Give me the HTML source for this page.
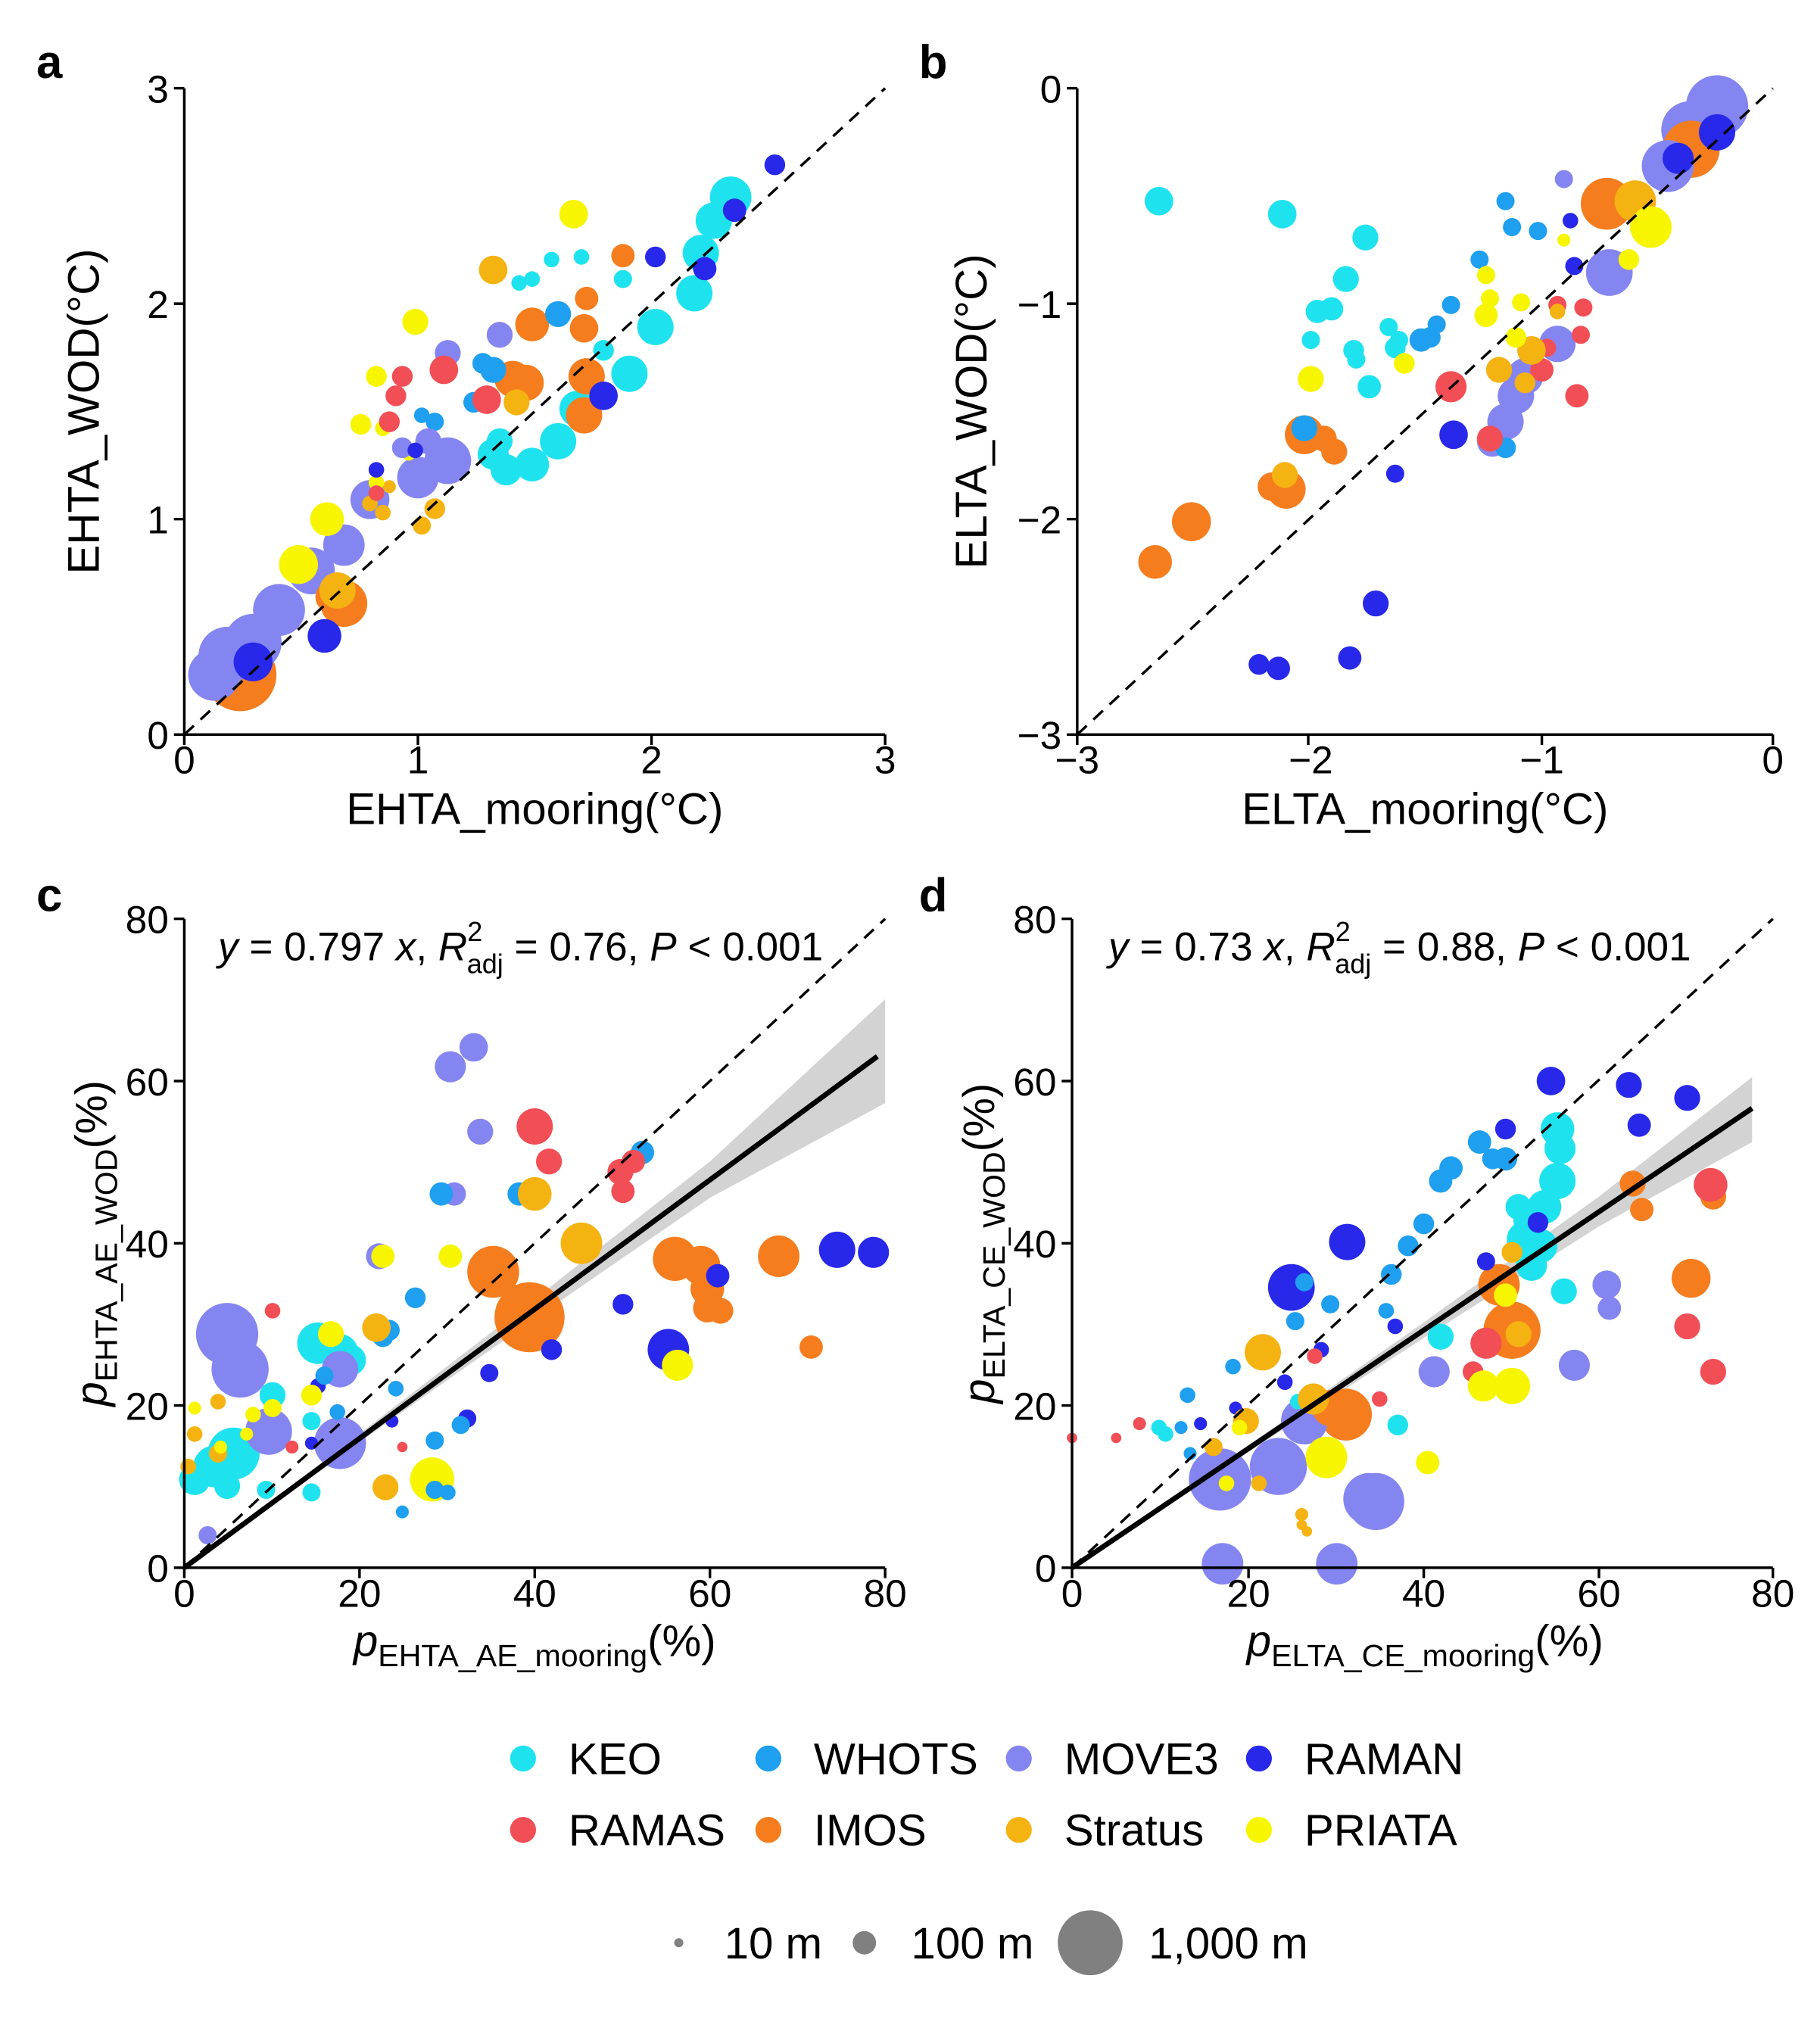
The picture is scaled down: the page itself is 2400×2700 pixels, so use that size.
<!DOCTYPE html>
<html><head><meta charset="utf-8"><style>
html,body{margin:0;padding:0;background:#fff}
svg{display:block}
text{font-family:"Liberation Sans",Arial,sans-serif;fill:#000}
.k{fill:#1ee3ef}.w{fill:#1e9ff0}.m{fill:#8585f2}.r{fill:#2828ea}.s{fill:#f24e55}.i{fill:#f57d1e}.t{fill:#f5b311}.p{fill:#f8f500}
</style></head><body>
<svg width="2400" height="2700" viewBox="0 0 1400 1575" xmlns="http://www.w3.org/2000/svg">
<rect width="1400" height="1575" fill="#fff"/>
<polygon points="142,1208 300,1087 412,1001 547,895 682,770 682,850 547,923 412,1016 300,1095" fill="#d3d3d3"/>
<polygon points="826,1208 1000,1087 1097,1019 1232,922 1350,830 1350,880 1232,945 1097,1031 1000,1094" fill="#d3d3d3"/>
<g>
<!-- big first -->
<circle class="i" cx="185" cy="520" r="28"/><circle class="m" cx="175" cy="505" r="22"/><circle class="m" cx="195" cy="495" r="22"/><circle class="m" cx="165" cy="520" r="20"/><circle class="m" cx="215" cy="470" r="20"/><circle class="m" cx="240" cy="440" r="18"/><circle class="m" cx="345" cy="355" r="18"/><circle class="i" cx="265" cy="465" r="18"/><circle class="m" cx="322" cy="368" r="16"/><circle class="m" cx="265" cy="420" r="16"/><circle class="k" cx="563" cy="152" r="16"/><circle class="m" cx="285" cy="385" r="15"/><circle class="r" cx="195" cy="510" r="15"/><circle class="p" cx="230" cy="435" r="15"/>
<circle class="k" cx="550" cy="170" r="14"/><circle class="k" cx="540" cy="195" r="14"/><circle class="k" cx="535" cy="226" r="14"/><circle class="k" cx="505" cy="252" r="14"/><circle class="k" cx="485" cy="288" r="14"/><circle class="k" cx="445" cy="315" r="14"/><circle class="k" cx="430" cy="340" r="14"/><circle class="k" cx="410" cy="358" r="13"/><circle class="k" cx="390" cy="362" r="12"/><circle class="k" cx="380" cy="350" r="12"/><circle class="k" cx="385" cy="340" r="10"/><circle class="k" cx="465" cy="270" r="8"/><circle class="k" cx="480" cy="215" r="7"/><circle class="k" cx="425" cy="200" r="6"/><circle class="k" cx="410" cy="215" r="6"/><circle class="k" cx="400" cy="218" r="6"/><circle class="k" cx="448" cy="198" r="6"/>
<circle class="i" cx="450" cy="320" r="14"/><circle class="i" cx="405" cy="295" r="14"/><circle class="i" cx="395" cy="292" r="14"/><circle class="i" cx="452" cy="290" r="14"/><circle class="i" cx="410" cy="250" r="13"/><circle class="i" cx="255" cy="460" r="12"/><circle class="i" cx="450" cy="253" r="11"/><circle class="i" cx="452" cy="230" r="9"/><circle class="i" cx="480" cy="197" r="9"/>
<circle class="t" cx="260" cy="455" r="14"/><circle class="t" cx="380" cy="208" r="11"/><circle class="t" cx="398" cy="310" r="10"/><circle class="t" cx="335" cy="392" r="8"/><circle class="t" cx="325" cy="405" r="7"/><circle class="t" cx="295" cy="395" r="6"/><circle class="t" cx="285" cy="388" r="6"/><circle class="t" cx="300" cy="375" r="5"/>
<circle class="p" cx="252" cy="400" r="13"/><circle class="p" cx="442" cy="165" r="11"/><circle class="p" cx="320" cy="248" r="10"/><circle class="p" cx="290" cy="290" r="8"/><circle class="p" cx="278" cy="327" r="8"/><circle class="p" cx="295" cy="330" r="6"/><circle class="p" cx="315" cy="350" r="5"/><circle class="p" cx="330" cy="345" r="4"/><circle class="p" cx="290" cy="372" r="6"/>
<circle class="w" cx="430" cy="242" r="10"/><circle class="w" cx="380" cy="285" r="10"/><circle class="w" cx="372" cy="280" r="8"/><circle class="w" cx="365" cy="310" r="8"/><circle class="w" cx="335" cy="325" r="7"/><circle class="w" cx="325" cy="320" r="6"/>
<circle class="m" cx="346" cy="350" r="10"/><circle class="m" cx="385" cy="258" r="10"/><circle class="m" cx="345" cy="272" r="10"/><circle class="m" cx="330" cy="340" r="10"/><circle class="m" cx="310" cy="345" r="8"/>
<circle class="r" cx="250" cy="490" r="13"/><circle class="r" cx="465" cy="305" r="11"/><circle class="r" cx="597" cy="127" r="8"/><circle class="r" cx="566" cy="162" r="9"/><circle class="r" cx="543" cy="207" r="9"/><circle class="r" cx="505" cy="198" r="8"/><circle class="r" cx="290" cy="362" r="6"/><circle class="r" cx="320" cy="347" r="6"/>
<circle class="s" cx="342" cy="285" r="11"/><circle class="s" cx="375" cy="308" r="11"/><circle class="s" cx="310" cy="290" r="8"/><circle class="s" cx="305" cy="305" r="8"/><circle class="s" cx="300" cy="325" r="8"/><circle class="s" cx="290" cy="380" r="6"/>
<!-- panel b -->
<circle class="m" cx="1323" cy="82" r="24"/><circle class="m" cx="1302" cy="100" r="22"/><circle class="i" cx="1303" cy="115" r="22"/><circle class="m" cx="1285" cy="128" r="20"/><circle class="i" cx="1238" cy="157" r="20"/><circle class="m" cx="1240" cy="210" r="18"/><circle class="t" cx="1260" cy="155" r="16"/><circle class="p" cx="1272" cy="175" r="16"/>
<circle class="m" cx="1200" cy="265" r="14"/><circle class="m" cx="1175" cy="290" r="14"/><circle class="m" cx="1168" cy="305" r="14"/><circle class="m" cx="1160" cy="325" r="14"/><circle class="m" cx="1150" cy="340" r="12"/><circle class="m" cx="1205" cy="138" r="7"/>
<circle class="r" cx="1323" cy="102" r="14"/><circle class="r" cx="1293" cy="122" r="12"/><circle class="r" cx="1120" cy="335" r="11"/><circle class="r" cx="1060" cy="465" r="10"/><circle class="r" cx="1040" cy="507" r="9"/><circle class="r" cx="970" cy="512" r="8"/><circle class="r" cx="985" cy="515" r="9"/><circle class="r" cx="1075" cy="365" r="7"/><circle class="r" cx="1213" cy="205" r="7"/><circle class="r" cx="1210" cy="170" r="6"/>
<circle class="i" cx="991" cy="377" r="15"/><circle class="i" cx="1005" cy="335" r="15"/><circle class="i" cx="918" cy="402" r="15"/><circle class="i" cx="890" cy="433" r="13"/><circle class="i" cx="980" cy="375" r="11"/><circle class="i" cx="1028" cy="348" r="10"/><circle class="i" cx="1020" cy="338" r="10"/>
<circle class="k" cx="893" cy="155" r="11"/><circle class="k" cx="988" cy="165" r="11"/><circle class="k" cx="1052" cy="183" r="10"/><circle class="k" cx="1037" cy="215" r="10"/><circle class="k" cx="1015" cy="240" r="9"/><circle class="k" cx="1026" cy="238" r="9"/><circle class="k" cx="1010" cy="262" r="7"/><circle class="k" cx="1070" cy="252" r="7"/><circle class="k" cx="1078" cy="262" r="7"/><circle class="k" cx="1045" cy="277" r="7"/><circle class="k" cx="1055" cy="298" r="9"/><circle class="k" cx="1075" cy="268" r="8"/><circle class="k" cx="1043" cy="270" r="8"/>
<circle class="w" cx="1005" cy="330" r="10"/><circle class="w" cx="1160" cy="345" r="8"/><circle class="w" cx="1095" cy="262" r="9"/><circle class="w" cx="1102" cy="260" r="8"/><circle class="w" cx="1118" cy="235" r="7"/><circle class="w" cx="1140" cy="200" r="7"/><circle class="w" cx="1165" cy="175" r="7"/><circle class="w" cx="1160" cy="155" r="7"/><circle class="w" cx="1185" cy="178" r="7"/><circle class="w" cx="1107" cy="250" r="7"/>
<circle class="s" cx="1118" cy="298" r="12"/><circle class="s" cx="1148" cy="338" r="10"/><circle class="s" cx="1188" cy="285" r="9"/><circle class="s" cx="1215" cy="305" r="9"/><circle class="s" cx="1200" cy="235" r="7"/><circle class="s" cx="1220" cy="237" r="7"/><circle class="s" cx="1218" cy="258" r="7"/><circle class="s" cx="1192" cy="268" r="7"/>
<circle class="t" cx="1180" cy="270" r="11"/><circle class="t" cx="1155" cy="285" r="10"/><circle class="t" cx="990" cy="366" r="10"/><circle class="t" cx="1200" cy="240" r="6"/><circle class="t" cx="1175" cy="295" r="8"/>
<circle class="p" cx="1255" cy="200" r="8"/><circle class="p" cx="1010" cy="292" r="10"/><circle class="p" cx="1145" cy="212" r="7"/><circle class="p" cx="1145" cy="243" r="9"/><circle class="p" cx="1172" cy="233" r="7"/><circle class="p" cx="1082" cy="280" r="8"/><circle class="p" cx="1168" cy="260" r="8"/><circle class="p" cx="1148" cy="230" r="7"/><circle class="p" cx="1205" cy="185" r="5"/>
<!-- panel c -->
<circle class="i" cx="408" cy="1015" r="27"/><circle class="m" cx="175" cy="1028" r="24"/><circle class="m" cx="185" cy="1055" r="22"/><circle class="m" cx="262" cy="1112" r="20"/><circle class="k" cx="180" cy="1120" r="20"/><circle class="i" cx="380" cy="980" r="20"/><circle class="m" cx="207" cy="1103" r="18"/><circle class="i" cx="520" cy="970" r="17"/><circle class="p" cx="333" cy="1140" r="17"/>
<circle class="k" cx="245" cy="1035" r="16"/><circle class="k" cx="262" cy="1042" r="14"/><circle class="k" cx="270" cy="1048" r="12"/><circle class="k" cx="165" cy="1130" r="16"/><circle class="k" cx="150" cy="1140" r="12"/><circle class="k" cx="175" cy="1145" r="10"/><circle class="k" cx="210" cy="1075" r="10"/><circle class="k" cx="240" cy="1095" r="7"/><circle class="k" cx="240" cy="1150" r="7"/><circle class="k" cx="205" cy="1148" r="7"/>
<circle class="m" cx="262" cy="1055" r="14"/><circle class="m" cx="292" cy="968" r="10"/><circle class="m" cx="347" cy="822" r="12"/><circle class="m" cx="365" cy="807" r="11"/><circle class="m" cx="370" cy="872" r="10"/><circle class="m" cx="350" cy="920" r="9"/><circle class="m" cx="160" cy="1183" r="7"/>
<circle class="i" cx="540" cy="975" r="15"/><circle class="i" cx="545" cy="993" r="13"/><circle class="i" cx="600" cy="968" r="16"/><circle class="i" cx="625" cy="1038" r="9"/><circle class="i" cx="545" cy="1008" r="11"/><circle class="i" cx="555" cy="1010" r="10"/>
<circle class="r" cx="515" cy="1040" r="16"/><circle class="r" cx="645" cy="963" r="14"/><circle class="r" cx="673" cy="965" r="12"/><circle class="r" cx="553" cy="983" r="9"/><circle class="r" cx="480" cy="1005" r="8"/><circle class="r" cx="425" cy="1040" r="8"/><circle class="r" cx="377" cy="1058" r="7"/><circle class="r" cx="360" cy="1093" r="7"/><circle class="r" cx="302" cy="1095" r="5"/><circle class="r" cx="240" cy="1112" r="5"/><circle class="r" cx="245" cy="1068" r="6"/>
<circle class="w" cx="495" cy="888" r="9"/><circle class="w" cx="400" cy="920" r="9"/><circle class="w" cx="340" cy="920" r="9"/><circle class="w" cx="320" cy="1000" r="8"/><circle class="w" cx="300" cy="1025" r="8"/><circle class="w" cx="295" cy="1030" r="8"/><circle class="w" cx="355" cy="1098" r="7"/><circle class="w" cx="335" cy="1110" r="7"/><circle class="w" cx="335" cy="1148" r="7"/><circle class="w" cx="345" cy="1150" r="6"/><circle class="w" cx="310" cy="1165" r="5"/><circle class="w" cx="250" cy="1060" r="7"/><circle class="w" cx="260" cy="1088" r="6"/><circle class="w" cx="305" cy="1070" r="6"/>
<circle class="s" cx="412" cy="868" r="14"/><circle class="s" cx="423" cy="895" r="10"/><circle class="s" cx="478" cy="903" r="10"/><circle class="s" cx="488" cy="895" r="9"/><circle class="s" cx="480" cy="918" r="9"/><circle class="s" cx="210" cy="1010" r="6"/><circle class="s" cx="225" cy="1115" r="5"/><circle class="s" cx="310" cy="1115" r="4"/>
<circle class="t" cx="448" cy="958" r="16"/><circle class="t" cx="412" cy="920" r="13"/><circle class="t" cx="290" cy="1023" r="11"/><circle class="t" cx="297" cy="1146" r="10"/><circle class="t" cx="168" cy="1120" r="7"/><circle class="t" cx="168" cy="1080" r="6"/><circle class="t" cx="150" cy="1105" r="6"/><circle class="t" cx="145" cy="1130" r="6"/>
<circle class="p" cx="522" cy="1052" r="12"/><circle class="p" cx="255" cy="1028" r="10"/><circle class="p" cx="295" cy="968" r="9"/><circle class="p" cx="347" cy="968" r="9"/><circle class="p" cx="240" cy="1075" r="8"/><circle class="p" cx="210" cy="1085" r="7"/><circle class="p" cx="195" cy="1090" r="6"/><circle class="p" cx="190" cy="1105" r="5"/><circle class="p" cx="170" cy="1115" r="5"/><circle class="p" cx="150" cy="1085" r="5"/>
<!-- panel d -->
<circle class="m" cx="940" cy="1140" r="24"/><circle class="m" cx="985" cy="1130" r="22"/><circle class="m" cx="1060" cy="1157" r="22"/><circle class="m" cx="1055" cy="1155" r="20"/><circle class="i" cx="1165" cy="1025" r="22"/><circle class="i" cx="1037" cy="1090" r="20"/><circle class="m" cx="1005" cy="1095" r="18"/><circle class="r" cx="995" cy="992" r="18"/>
<circle class="m" cx="942" cy="1205" r="16"/><circle class="m" cx="1030" cy="1205" r="16"/><circle class="m" cx="1105" cy="1057" r="12"/><circle class="m" cx="1213" cy="1052" r="12"/><circle class="m" cx="1238" cy="990" r="11"/><circle class="m" cx="1240" cy="1008" r="9"/><circle class="m" cx="1013" cy="1078" r="8"/>
<circle class="i" cx="1155" cy="990" r="16"/><circle class="i" cx="1025" cy="1085" r="14"/><circle class="i" cx="1303" cy="985" r="15"/><circle class="i" cx="1258" cy="912" r="10"/><circle class="i" cx="1265" cy="932" r="9"/><circle class="i" cx="1320" cy="922" r="10"/>
<circle class="k" cx="1200" cy="870" r="13"/><circle class="k" cx="1202" cy="885" r="12"/><circle class="k" cx="1200" cy="910" r="14"/><circle class="k" cx="1190" cy="930" r="13"/><circle class="k" cx="1178" cy="940" r="12"/><circle class="k" cx="1175" cy="955" r="14"/><circle class="k" cx="1187" cy="960" r="13"/><circle class="k" cx="1180" cy="975" r="12"/><circle class="k" cx="1170" cy="930" r="10"/><circle class="k" cx="1205" cy="995" r="10"/><circle class="k" cx="1110" cy="1030" r="10"/><circle class="k" cx="1077" cy="1098" r="8"/><circle class="k" cx="893" cy="1100" r="6"/><circle class="k" cx="898" cy="1105" r="6"/><circle class="k" cx="1000" cy="1080" r="6"/>
<circle class="w" cx="1140" cy="880" r="9"/><circle class="w" cx="1118" cy="900" r="9"/><circle class="w" cx="1110" cy="910" r="9"/><circle class="w" cx="1097" cy="943" r="8"/><circle class="w" cx="1085" cy="960" r="8"/><circle class="w" cx="1072" cy="982" r="8"/><circle class="w" cx="1150" cy="893" r="8"/><circle class="w" cx="1160" cy="893" r="9"/><circle class="w" cx="1068" cy="1010" r="6"/><circle class="w" cx="1025" cy="1005" r="7"/><circle class="w" cx="1005" cy="988" r="7"/><circle class="w" cx="998" cy="1018" r="7"/><circle class="w" cx="950" cy="1053" r="6"/><circle class="w" cx="915" cy="1075" r="6"/><circle class="w" cx="910" cy="1100" r="5"/><circle class="w" cx="917" cy="1120" r="5"/>
<circle class="r" cx="1038" cy="957" r="14"/><circle class="r" cx="1195" cy="833" r="11"/><circle class="r" cx="1255" cy="836" r="10"/><circle class="r" cx="1300" cy="846" r="10"/><circle class="r" cx="1263" cy="867" r="9"/><circle class="r" cx="1185" cy="942" r="8"/><circle class="r" cx="1160" cy="870" r="8"/><circle class="r" cx="1145" cy="972" r="7"/><circle class="r" cx="1075" cy="1022" r="6"/><circle class="r" cx="1018" cy="1040" r="6"/><circle class="r" cx="990" cy="1065" r="6"/><circle class="r" cx="952" cy="1085" r="5"/><circle class="r" cx="925" cy="1097" r="5"/>
<circle class="s" cx="1318" cy="913" r="13"/><circle class="s" cx="1300" cy="1022" r="10"/><circle class="s" cx="1320" cy="1057" r="10"/><circle class="s" cx="1145" cy="1035" r="12"/><circle class="s" cx="1135" cy="1057" r="8"/><circle class="s" cx="1063" cy="1078" r="6"/><circle class="s" cx="1013" cy="1045" r="6"/><circle class="s" cx="878" cy="1097" r="5"/><circle class="s" cx="860" cy="1108" r="4"/><circle class="s" cx="826" cy="1108" r="4"/>
<circle class="t" cx="973" cy="1042" r="14"/><circle class="t" cx="1012" cy="1078" r="12"/><circle class="t" cx="1170" cy="1028" r="10"/><circle class="t" cx="1165" cy="965" r="8"/><circle class="t" cx="960" cy="1095" r="10"/><circle class="t" cx="935" cy="1115" r="7"/><circle class="t" cx="1003" cy="1167" r="5"/><circle class="t" cx="1007" cy="1180" r="4"/><circle class="t" cx="1003" cy="1175" r="4"/><circle class="t" cx="970" cy="1143" r="6"/>
<circle class="p" cx="1022" cy="1123" r="16"/><circle class="p" cx="1165" cy="1068" r="14"/><circle class="p" cx="1143" cy="1068" r="12"/><circle class="p" cx="1100" cy="1127" r="9"/><circle class="p" cx="1160" cy="998" r="9"/><circle class="p" cx="945" cy="1143" r="6"/><circle class="p" cx="955" cy="1100" r="6"/>
</g>
<g stroke="#000" stroke-width="2" stroke-dasharray="10,7" fill="none">
<line x1="142" y1="566" x2="682" y2="68"/>
<line x1="830" y1="566" x2="1366" y2="68"/>
<line x1="142" y1="1208" x2="682" y2="708"/>
<line x1="826" y1="1208" x2="1366" y2="708"/>
</g>
<line x1="142" y1="1208" x2="676" y2="814" stroke="#000" stroke-width="4"/>
<line x1="826" y1="1208" x2="1350" y2="854" stroke="#000" stroke-width="4"/>
<g stroke="#000" stroke-width="2" fill="none">
<path d="M142,68V566H682"/>
<path d="M134,68H142M134,234H142M134,400H142M134,566H142M142,566V574M322,566V574M502,566V574M682,566V574"/>
<path d="M830,68V566H1366"/>
<path d="M822,68H830M822,234H830M822,400H830M822,566H830M830,566V574M1008,566V574M1188,566V574M1366,566V574"/>
<path d="M142,708V1208H682"/>
<path d="M134,708H142M134,833H142M134,958H142M134,1083H142M134,1208H142M142,1208V1216M277,1208V1216M412,1208V1216M547,1208V1216M682,1208V1216"/>
<path d="M826,708V1208H1366"/>
<path d="M818,708H826M818,833H826M818,958H826M818,1083H826M818,1208H826M826,1208V1216M962,1208V1216M1097,1208V1216M1232,1208V1216M1366,1208V1216"/>
</g>
<g font-size="30">
<g text-anchor="end"><text x="130" y="79">3</text><text x="130" y="245">2</text><text x="130" y="411">1</text><text x="130" y="577">0</text>
<text x="818" y="79">0</text><text x="818" y="245">−1</text><text x="818" y="411">−2</text><text x="818" y="577">−3</text>
<text x="130" y="719">80</text><text x="130" y="844">60</text><text x="130" y="969">40</text><text x="130" y="1094">20</text><text x="130" y="1219">0</text>
<text x="814" y="719">80</text><text x="814" y="844">60</text><text x="814" y="969">40</text><text x="814" y="1094">20</text><text x="814" y="1219">0</text></g>
<g text-anchor="middle"><text x="142" y="596">0</text><text x="322" y="596">1</text><text x="502" y="596">2</text><text x="682" y="596">3</text>
<text x="830" y="596">−3</text><text x="1010" y="596">−2</text><text x="1188" y="596">−1</text><text x="1366" y="596">0</text>
<text x="142" y="1238">0</text><text x="277" y="1238">20</text><text x="412" y="1238">40</text><text x="547" y="1238">60</text><text x="682" y="1238">80</text>
<text x="826" y="1238">0</text><text x="962" y="1238">20</text><text x="1097" y="1238">40</text><text x="1232" y="1238">60</text><text x="1366" y="1238">80</text></g>
</g>
<g font-size="36" font-weight="bold"><text x="28" y="60">a</text><text x="708" y="60">b</text><text x="28" y="702">c</text><text x="708" y="702">d</text></g>
<g font-size="34" text-anchor="middle">
<text x="412" y="635">EHTA_mooring(°C)</text>
<text x="1098" y="635">ELTA_mooring(°C)</text>
<text transform="translate(76,317) rotate(-90)">EHTA_WOD(°C)</text>
<text transform="translate(760,317) rotate(-90)">ELTA_WOD(°C)</text>
<text x="412" y="1276"><tspan font-style="italic">p</tspan><tspan font-size="24" dy="8">EHTA_AE_mooring</tspan><tspan dy="-8">(%)</tspan></text>
<text x="1098" y="1276"><tspan font-style="italic">p</tspan><tspan font-size="24" dy="8">ELTA_CE_mooring</tspan><tspan dy="-8">(%)</tspan></text>
<text transform="translate(82,958) rotate(-90)"><tspan font-style="italic">p</tspan><tspan font-size="24" dy="8">EHTA_AE_WOD</tspan><tspan dy="-8">(%)</tspan></text>
<text transform="translate(766,958) rotate(-90)"><tspan font-style="italic">p</tspan><tspan font-size="24" dy="8">ELTA_CE_WOD</tspan><tspan dy="-8">(%)</tspan></text>
</g>
<g font-size="31">
<text x="168" y="740"><tspan font-style="italic">y</tspan> = 0.797 <tspan font-style="italic">x</tspan>, <tspan font-style="italic">R</tspan><tspan font-size="21" dy="-15">2</tspan><tspan font-size="21" dx="-12" dy="25">adj</tspan><tspan dy="-10"> = 0.76, </tspan><tspan font-style="italic">P</tspan> &lt; 0.001</text>
<text x="854" y="740"><tspan font-style="italic">y</tspan> = 0.73 <tspan font-style="italic">x</tspan>, <tspan font-style="italic">R</tspan><tspan font-size="21" dy="-15">2</tspan><tspan font-size="21" dx="-12" dy="25">adj</tspan><tspan dy="-10"> = 0.88, </tspan><tspan font-style="italic">P</tspan> &lt; 0.001</text>
</g>
<g font-size="34">
<circle cx="403" cy="1355" r="10" class="k"/><text x="438" y="1367">KEO</text>
<circle cx="592" cy="1355" r="10" class="w"/><text x="627" y="1367">WHOTS</text>
<circle cx="785" cy="1355" r="10" class="m"/><text x="820" y="1367">MOVE3</text>
<circle cx="970" cy="1355" r="10" class="r"/><text x="1005" y="1367">RAMAN</text>
<circle cx="403" cy="1410" r="10" class="s"/><text x="438" y="1422">RAMAS</text>
<circle cx="592" cy="1410" r="10" class="i"/><text x="627" y="1422">IMOS</text>
<circle cx="785" cy="1410" r="10" class="t"/><text x="820" y="1422">Stratus</text>
<circle cx="970" cy="1410" r="10" class="p"/><text x="1005" y="1422">PRIATA</text>
<circle cx="523" cy="1497" r="3.5" fill="#808080"/><text x="558" y="1509">10 m</text>
<circle cx="666" cy="1497" r="9" fill="#808080"/><text x="702" y="1509">100 m</text>
<circle cx="840" cy="1497" r="25" fill="#808080"/><text x="885" y="1509">1,000 m</text>
</g>
</svg>
</body></html>
